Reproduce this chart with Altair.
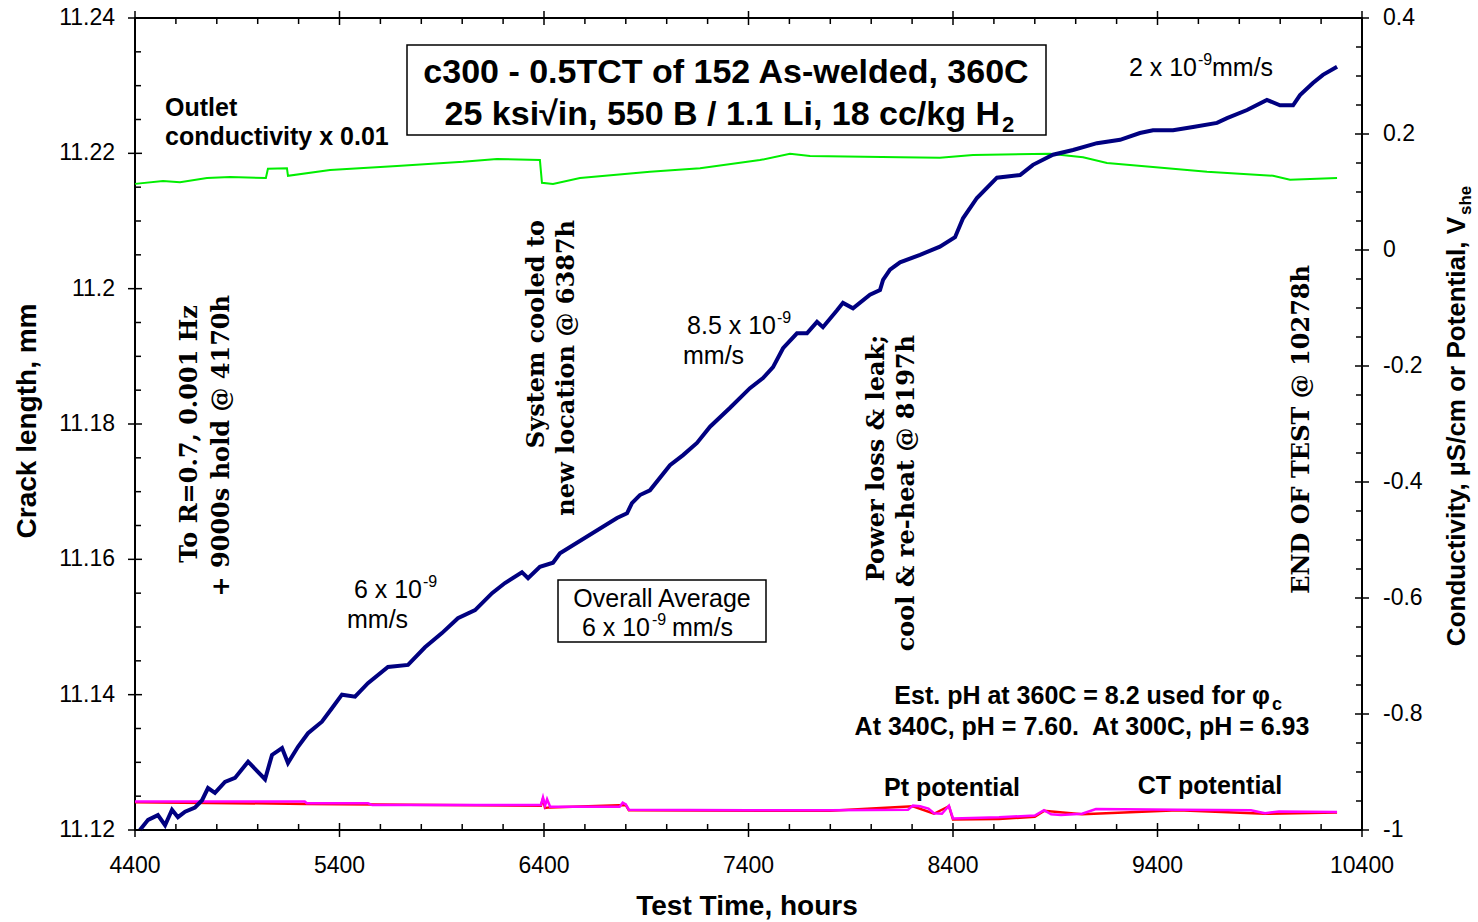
import altair as alt
import pandas as pd

# ---------------- data ----------------
crack_hours = [4424, 4464, 4512, 4547, 4581, 4610, 4645, 4693, 4728, 4757,
               4791, 4840, 4889, 4953, 5001, 5036, 5070, 5119, 5148, 5197,
               5246, 5314, 5363, 5412, 5476, 5539, 5637, 5735, 5818, 5901,
               5979, 6063, 6146, 6209, 6292, 6322, 6380, 6444, 6478, 6757,
               6806, 6830, 6869, 6918, 7016, 7080, 7148, 7212, 7310, 7407,
               7471, 7520, 7569, 7637, 7686, 7735, 7764, 7833, 7862, 7911,
               7994, 8043, 8058, 8092, 8141, 8239, 8336, 8410, 8449, 8517,
               8615, 8728, 8791, 8889, 8987, 9104, 9217, 9314, 9378, 9476,
               9574, 9691, 9740, 9838, 9935, 9999, 10063, 10097, 10160, 10209,
               10278]
crack_mm = [11.1200, 11.1215, 11.1222, 11.1207, 11.1230, 11.1219, 11.1227, 11.1233, 11.1244, 11.1262,
            11.1255, 11.1271, 11.1277, 11.1301, 11.1286, 11.1275, 11.1311, 11.1321, 11.1299, 11.1323,
            11.1343, 11.1360, 11.1380, 11.1400, 11.1397, 11.1417, 11.1441, 11.1444, 11.1470, 11.1491,
            11.1513, 11.1525, 11.1550, 11.1565, 11.1581, 11.1572, 11.1589, 11.1595, 11.1609, 11.1661,
            11.1668, 11.1683, 11.1695, 11.1702, 11.1739, 11.1754, 11.1772, 11.1796, 11.1824, 11.1853,
            11.1868, 11.1884, 11.1912, 11.1934, 11.1934, 11.1951, 11.1943, 11.1968, 11.1979, 11.1971,
            11.1991, 11.1998, 11.2013, 11.2028, 11.2039, 11.2050, 11.2062, 11.2076, 11.2104, 11.2134,
            11.2164, 11.2168, 11.2183, 11.2198, 11.2205, 11.2215, 11.2220, 11.2230, 11.2234, 11.2234,
            11.2239, 11.2245, 11.2252, 11.2264, 11.2279, 11.2271, 11.2271, 11.2286, 11.2304, 11.2316,
            11.2328]

cond_hours = [4400, 4537, 4620, 4752, 4865, 5040, 5050, 5143, 5148, 5354,
              5681, 6004, 6170, 6380, 6390, 6444, 6576, 6918, 7163, 7456,
              7603, 7701, 8141, 8336, 8498, 8874, 9036, 9153, 9378, 9642,
              9965, 10048, 10278]
cond_x001 = [0.114, 0.119, 0.117, 0.124, 0.126, 0.124, 0.140, 0.141, 0.128, 0.138,
             0.145, 0.152, 0.157, 0.155, 0.116, 0.114, 0.124, 0.135, 0.141, 0.155,
             0.166, 0.162, 0.160, 0.159, 0.164, 0.166, 0.160, 0.150, 0.143, 0.135,
             0.128, 0.121, 0.124]

pt_hours = [4400, 5230, 5240, 5540, 5560, 6385, 6395, 6405, 6415, 6430,
            6770, 6785, 6800, 6815, 7400, 7800, 8180, 8204, 8239, 8280,
            8307, 8346, 8380, 8400, 8625, 8800, 8845, 8880, 8928, 9031,
            9099, 9500, 9857, 9926, 9994, 10278]
pt_vshe = [-0.951, -0.951, -0.954, -0.954, -0.957, -0.957, -0.944, -0.958, -0.947, -0.960,
           -0.960, -0.953, -0.956, -0.965, -0.966, -0.966, -0.965, -0.958, -0.959, -0.963,
           -0.971, -0.972, -0.958, -0.980, -0.978, -0.975, -0.966, -0.973, -0.974, -0.972,
           -0.964, -0.965, -0.966, -0.971, -0.968, -0.969]

ct_hours = [4400, 5240, 6385, 6395, 6405, 6430, 6800, 6815, 7800, 8204,
            8307, 8380, 8400, 8625, 8800, 8845, 9031, 9500, 9926, 10278]
ct_vshe = [-0.952, -0.955, -0.958, -0.946, -0.962, -0.961, -0.957, -0.966, -0.967, -0.959,
           -0.972, -0.959, -0.982, -0.981, -0.977, -0.967, -0.973, -0.966, -0.972, -0.970]

# tick values and tick labels
x_major = [4400, 5400, 6400, 7400, 8400, 9400, 10400]
x_labels = ["4400", "5400", "6400", "7400", "8400", "9400", "10400"]
x_minor = [h for h in range(4400, 10401, 200) if (h - 4400) % 1000]
left_major = [11.12, 11.14, 11.16, 11.18, 11.2, 11.22, 11.24]
left_labels = ["11.12", "11.14", "11.16", "11.18", "11.2", "11.22", "11.24"]
left_minor = [round(11.12 + 0.005 * i, 3) for i in range(25) if i % 4]
right_major = [-1, -0.8, -0.6, -0.4, -0.2, 0, 0.2, 0.4]
right_labels = ["-1", "-0.8", "-0.6", "-0.4", "-0.2", "0", "0.2", "0.4"]
right_minor = [round(-1 + 0.05 * i, 2) for i in range(29) if i % 4]

# ---------------- layout / style ----------------
W, H = 1227, 812
SANS = "Liberation Sans"
SERIF = "DejaVu Serif"


def xs():
    return alt.Scale(domain=[4400, 10400], nice=False, zero=False)


def yl():
    return alt.Scale(domain=[11.12, 11.24], nice=False, zero=False)


def yr():
    return alt.Scale(domain=[-1, 0.4], nice=False, zero=False)


def txt(s, x, y, size=25, bold=False, align="left", angle=0, font=SANS):
    kw = dict(text=s, align=align, baseline="middle", fontSize=size, font=font,
              color="black", fontWeight="bold" if bold else "normal")
    if angle:
        kw["angle"] = angle
    return alt.Chart(alt.Data(values=[{"k": 0}])).mark_text(**kw).encode(
        x=alt.value(x), y=alt.value(y))


def box(x1, y1, x2, y2):
    return alt.Chart(alt.Data(values=[{"k": 0}])).mark_rect(
        fill="white", stroke="black", strokeWidth=1.5).encode(
        x=alt.value(x1), x2=alt.value(x2), y=alt.value(y1), y2=alt.value(y2))


def xrule(vals, ya, yb):
    return alt.Chart(pd.DataFrame({"h": vals})).mark_rule(color="black", strokeWidth=1.5).encode(
        x=alt.X("h:Q", scale=xs(), axis=None), y=alt.value(ya), y2=alt.value(yb))


def yrule(vals, scale, xa, xb):
    return alt.Chart(pd.DataFrame({"v": vals})).mark_rule(color="black", strokeWidth=1.5).encode(
        y=alt.Y("v:Q", scale=scale, axis=None), x=alt.value(xa), x2=alt.value(xb))


def xlabels():
    df = pd.DataFrame({"h": x_major, "lab": x_labels})
    return alt.Chart(df).mark_text(font=SANS, fontSize=23, color="black", align="center",
                                   baseline="top").encode(
        x=alt.X("h:Q", scale=xs(), axis=None), y=alt.value(H + 25), text="lab:N")


def ylabels(vals, labs, scale, x, align):
    df = pd.DataFrame({"v": vals, "lab": labs})
    return alt.Chart(df).mark_text(font=SANS, fontSize=23, color="black", align=align,
                                   baseline="middle").encode(
        y=alt.Y("v:Q", scale=scale, axis=None), x=alt.value(x), text="lab:N")


# ---------------- series ----------------
cond_df = pd.DataFrame({"h": cond_hours, "v": cond_x001})
pt_df = pd.DataFrame({"h": pt_hours, "v": pt_vshe})
ct_df = pd.DataFrame({"h": ct_hours, "v": ct_vshe})
crack_df = pd.DataFrame({"h": crack_hours, "mm": crack_mm})

green = alt.Chart(cond_df).mark_line(color="#00ee00", strokeWidth=2).encode(
    x=alt.X("h:Q", scale=xs(), axis=None), y=alt.Y("v:Q", scale=yr(), axis=None))
red = alt.Chart(ct_df).mark_line(color="#ff0000", strokeWidth=2.5).encode(
    x=alt.X("h:Q", scale=xs(), axis=None), y=alt.Y("v:Q", scale=yr(), axis=None))
magenta = alt.Chart(pt_df).mark_line(color="#ff00ff", strokeWidth=2.5).encode(
    x=alt.X("h:Q", scale=xs(), axis=None), y=alt.Y("v:Q", scale=yr(), axis=None))
crack = alt.Chart(crack_df).mark_line(color="#000080", strokeWidth=4).encode(
    x=alt.X("h:Q", scale=xs(), axis=None), y=alt.Y("mm:Q", scale=yl(), axis=None))

axes = [
    # bottom
    xrule(x_major, H - 7, H + 7), xrule(x_minor, H, H - 6), xlabels(),
    txt("Test Time, hours", 612, 889, size=28, bold=True, align="center"),
    # top
    xrule(x_major, -7, 7), xrule(x_minor, 0, 6),
    # left
    yrule(left_major, yl(), -7, 7), yrule(left_minor, yl(), 0, 6),
    ylabels(left_major, left_labels, yl(), -20, "right"),
    txt("Crack length, mm", -107, 403, size=28, bold=True, align="center", angle=270),
    # right
    yrule(right_major, yr(), W - 7, W + 7), yrule(right_minor, yr(), W, W - 6),
    ylabels(right_major, right_labels, yr(), W + 21, "left"),
    txt("Conductivity, \u00b5S/cm or Potential, V", 1322, 199, size=26, bold=True, align="right", angle=270),
    txt("she", 1331, 197, size=17, bold=True, align="left", angle=270),
]

texts = [
    # title box
    box(272, 27, 911, 117),
    txt("c300 - 0.5TCT of 152 As-welded, 360C", 591, 55, size=34, bold=True, align="center"),
    txt("25 ksi\u221ain, 550 B / 1.1 Li, 18 cc/kg H", 865, 97, size=34, bold=True, align="right"),
    txt("2", 867, 107, size=22, bold=True),
    # outlet conductivity
    txt("Outlet", 30, 90, bold=True),
    txt("conductivity x 0.01", 30, 119, bold=True),
    # growth rates
    txt("2 x 10", 1062, 50, align="right"),
    txt("-9", 1063, 42, size=16),
    txt("mm/s", 1077, 50),
    txt("8.5 x 10", 641, 308, align="right"),
    txt("-9", 642, 300, size=16),
    txt("mm/s", 548, 338),
    txt("6 x 10", 287, 572, align="right"),
    txt("-9", 288, 564, size=16),
    txt("mm/s", 212, 602),
    # overall average box
    box(423, 562, 631, 624),
    txt("Overall Average", 527, 581, align="center"),
    txt("6 x 10", 515, 610, align="right"),
    txt("-9", 517, 602, size=16),
    txt("mm/s", 537, 610),
    # pH notes
    txt("Est. pH at 360C = 8.2 used for \u03c6", 1135, 678, bold=True, align="right"),
    txt("c", 1137, 687, size=18, bold=True),
    txt("At 340C, pH = 7.60.\u00a0 At 300C, pH = 6.93", 947, 709, bold=True, align="center"),
    txt("Pt potential", 817, 770, bold=True, align="center"),
    txt("CT potential", 1075, 768, bold=True, align="center"),
    # vertical event notes
    txt("To R=0.7, 0.001 Hz", 55, 287, size=24, bold=True, align="right", angle=270, font=SERIF),
    txt("+ 9000s hold @ 4170h", 87, 277, size=24, bold=True, align="right", angle=270, font=SERIF),
    txt("System cooled to", 402, 202, size=24, bold=True, align="right", angle=270, font=SERIF),
    txt("new location @ 6387h", 432, 202, size=24, bold=True, align="right", angle=270, font=SERIF),
    txt("Power loss & leak;", 742, 317, size=24, bold=True, align="right", angle=270, font=SERIF),
    txt("cool & re-heat @ 8197h", 772, 317, size=24, bold=True, align="right", angle=270, font=SERIF),
    txt("END OF TEST @ 10278h", 1167, 247, size=24, bold=True, align="right", angle=270, font=SERIF),
]

layers = [green, red, magenta, crack] + axes + texts

chart = alt.layer(*layers).resolve_scale(y="independent").properties(
    width=W, height=H,
    autosize=alt.AutoSizeParams(type="none"),
    padding={"left": 135, "top": 18, "right": 116, "bottom": 92},
    background="white",
).configure_view(stroke="black", strokeWidth=2)

chart.save("out.html", embed_options={"renderer": "svg", "actions": False})
